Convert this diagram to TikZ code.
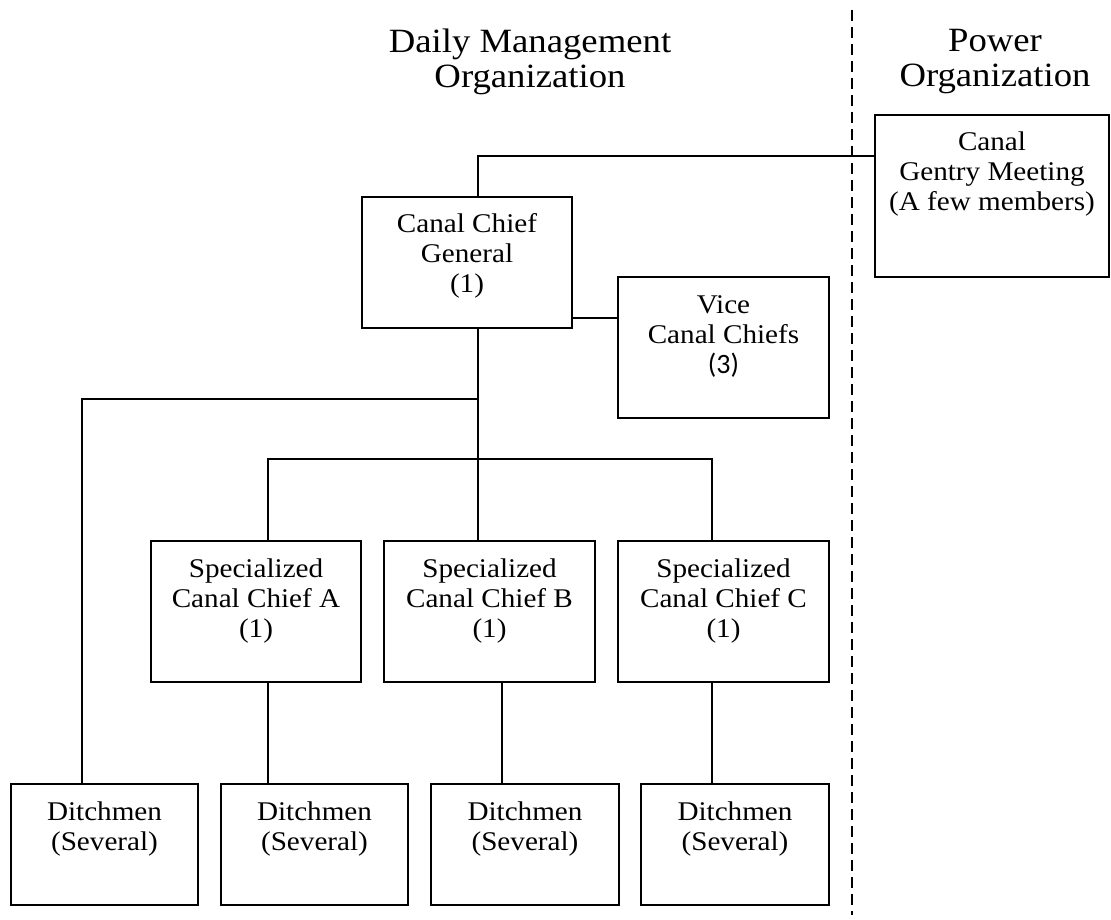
\documentclass[tikz,border=0pt]{standalone}
\usepackage{fontspec}
\setmainfont{Liberation Serif}[FakeStretch=1.08]
\newfontfamily\calfont{Carlito}
\newcommand{\bx}[3]{\parbox[c][#2pt][t]{#1pt}{\centering\fontsize{27}{30}\selectfont\vspace*{15pt}\strut #3}}
\tikzset{
  orgbox/.style={draw, line width=1.8pt, inner sep=0pt, outer sep=0pt},
  conn/.style={line width=1.8pt},
  divider/.style={line width=1.8pt, dash pattern=on 11pt off 6pt},
  ttl/.style={align=center, inner sep=0pt, font=\fontsize{34}{35}\selectfont}
}
\begin{document}
\begin{tikzpicture}[x=1pt, y=-1pt]
\useasboundingbox (0,0) rectangle (1111,920);

% titles
\node[ttl, anchor=north] (t1) at (530,29) {Daily Management\\Organization};
\node[ttl, anchor=north] (t2) at (995,29) {Power\\Organization};

% divider
\coordinate (dvT) at (852,10);
\coordinate (dvB) at (852,915);
\draw[divider] (dvT) -- (dvB);

% boxes
\node[orgbox] (gentry) at (992,196) {\bx{234}{162}{Canal\\Gentry Meeting\\(A few members)}};
\node[orgbox] (ccg) at (467,262.5) {\bx{210}{131}{Canal Chief\\General\\(1)}};
\node[orgbox] (vice) at (723.5,347.5) {\bx{211}{141}{Vice\\Canal Chiefs\\{\calfont\fontsize{28}{30}\selectfont (3)}}};
\node[orgbox] (specA) at (256,611.5) {\bx{210}{141}{Specialized\\Canal Chief A\\(1)}};
\node[orgbox] (specB) at (489.5,611.5) {\bx{211}{141}{Specialized\\Canal Chief B\\(1)}};
\node[orgbox] (specC) at (723.5,611.5) {\bx{211}{141}{Specialized\\Canal Chief C\\(1)}};
\node[orgbox] (d1) at (104.5,844.5) {\bx{187}{121}{Ditchmen\\(Several)}};
\node[orgbox] (d2) at (314.5,844.5) {\bx{187}{121}{Ditchmen\\(Several)}};
\node[orgbox] (d3) at (525,844.5) {\bx{188}{121}{Ditchmen\\(Several)}};
\node[orgbox] (d4) at (735,844.5) {\bx{188}{121}{Ditchmen\\(Several)}};

% junction coordinates
\coordinate (cT) at (478,156);
\coordinate (vJ) at (595,318);
\coordinate (j1) at (478,399);
\coordinate (j2) at (478,459);
\coordinate (dL) at (82,399);
\coordinate (bA) at (268,459);
\coordinate (bC) at (712,459);
\coordinate (xB) at (502,700);

% connectors
\draw[conn] (gentry.west |- cT) -- (cT) -- (ccg.north -| cT);
\draw[conn] (ccg.east |- vJ) -- (vice.west |- vJ);
\draw[conn] (ccg.south -| j1) -- (specB.north -| j1);
\draw[conn] (j1) -- (dL) -- (d1.north -| dL);
\draw[conn] (specA.north -| bA) -- (bA) -- (bC) -- (specC.north -| bC);
\draw[conn] (specA.south -| bA) -- (d2.north -| bA);
\draw[conn] (specB.south -| xB) -- (d3.north -| xB);
\draw[conn] (specC.south -| bC) -- (d4.north -| bC);
\end{tikzpicture}
\end{document}
